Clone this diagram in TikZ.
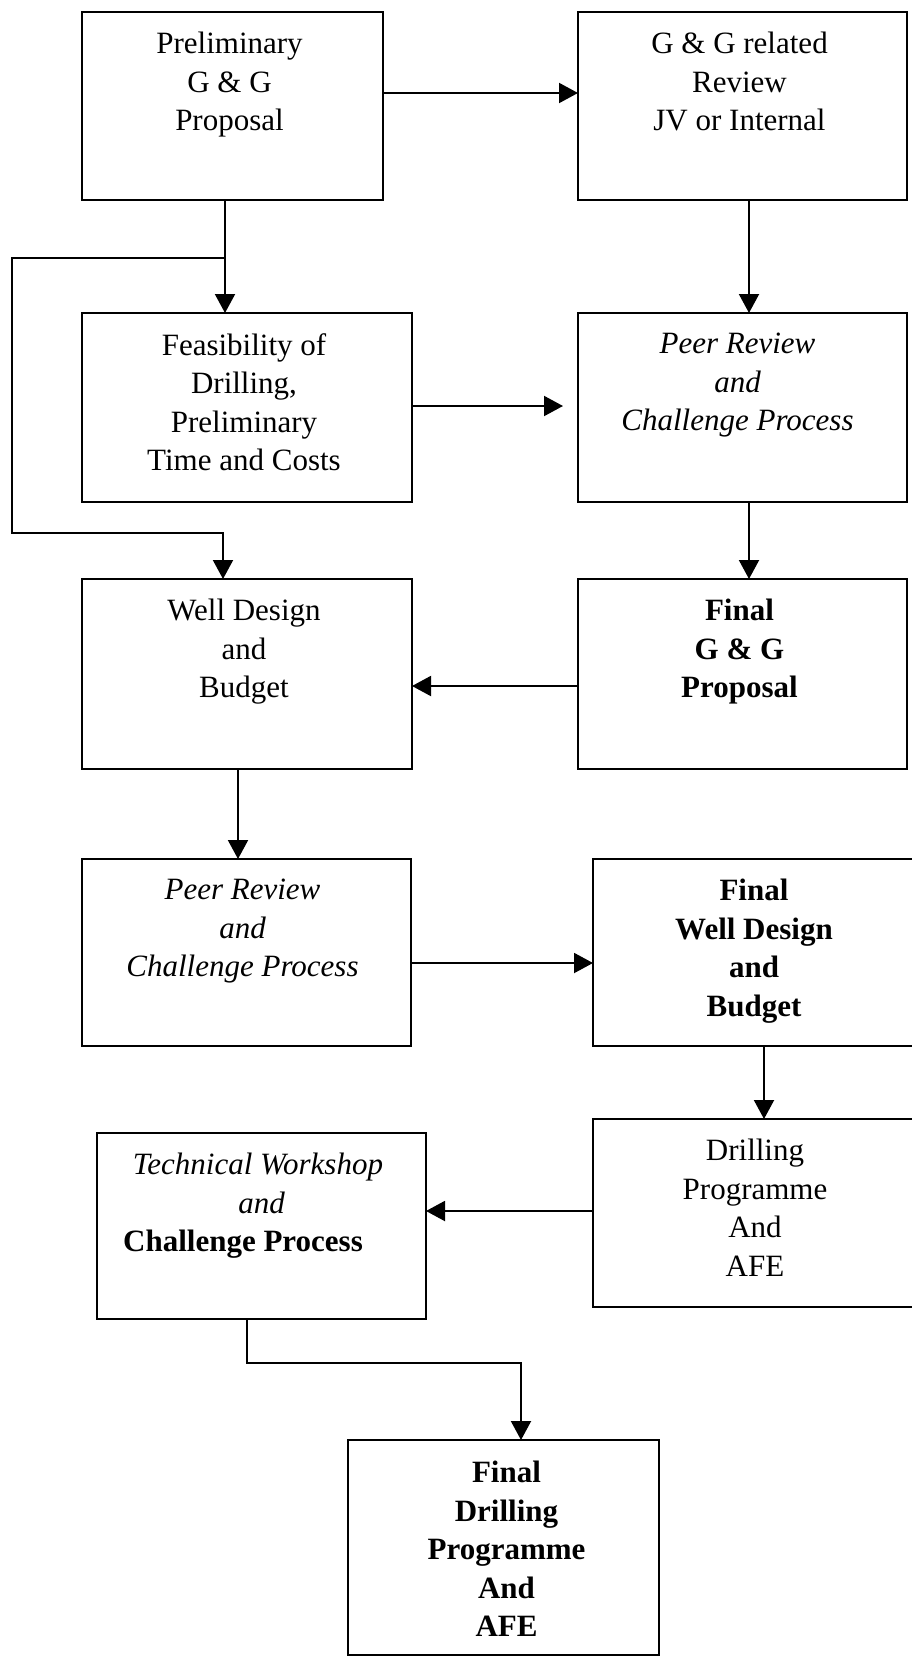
\documentclass[tikz,border=0pt]{standalone}
\usepackage{fontspec}
\setmainfont{Liberation Serif}
\usetikzlibrary{arrows.meta}
\begin{document}
\begin{tikzpicture}[x=1pt,y=-1pt,
  box/.style={draw, line width=2pt, inner sep=0pt, outer sep=0pt},
  txt/.style={anchor=north, inner sep=0pt, align=center, font=\fontsize{31}{38.5}\selectfont},
  arr/.style={line width=2pt, -{Triangle[length=19pt,width=20pt]}}]
\useasboundingbox (0,0) rectangle (912,1657);
% boxes
\node[box, minimum width=301pt, minimum height=188pt] (b1) at (232.5,106) {};
\node[box, minimum width=329pt, minimum height=188pt] (b2) at (742.5,106) {};
\node[box, minimum width=330pt, minimum height=189pt] (b3) at (247,407.5) {};
\node[box, minimum width=329pt, minimum height=189pt] (b4) at (742.5,407.5) {};
\node[box, minimum width=330pt, minimum height=190pt] (b5) at (247,674) {};
\node[box, minimum width=329pt, minimum height=190pt] (b6) at (742.5,674) {};
\node[box, minimum width=329pt, minimum height=187pt] (b7) at (246.5,952.5) {};
\node[box, minimum width=320pt, minimum height=187pt] (b8) at (753,952.5) {};
\node[box, minimum width=320pt, minimum height=188pt] (b9) at (753,1213) {};
\node[box, minimum width=329pt, minimum height=186pt] (b10) at (261.5,1226) {};
\node[box, minimum width=311pt, minimum height=215pt] (b11) at (503.5,1547.5) {};
% texts
\node[txt] (t1) at ([xshift=-3pt,yshift=-20pt]b1.north) {Preliminary\\G \& G\\Proposal};
\node[txt] (t2) at ([xshift=-3pt,yshift=-20pt]b2.north) {G \& G related\\Review\\JV or Internal};
\node[txt] (t3) at ([xshift=-3pt,yshift=-20pt]b3.north) {Feasibility of\\Drilling,\\Preliminary\\Time and Costs};
\node[txt] (t4) at ([xshift=-5pt,yshift=-20pt]b4.north) {\itshape Peer Review\\\itshape and\\\itshape Challenge Process};
\node[txt] (t5) at ([xshift=-3pt,yshift=-20pt]b5.north) {Well Design\\and\\Budget};
\node[txt] (t6) at ([xshift=-3pt,yshift=-20pt]b6.north) {\bfseries Final\\\bfseries G \& G\\\bfseries Proposal};
\node[txt] (t7) at ([xshift=-4pt,yshift=-20pt]b7.north) {\itshape Peer Review\\\itshape and\\\itshape Challenge Process};
\node[txt] (t8) at ([xshift=1pt,yshift=-20pt]b8.north) {\bfseries Final\\\bfseries Well Design\\\bfseries and\\\bfseries Budget};
\node[txt] (t9) at ([xshift=2pt,yshift=-20pt]b9.north) {Drilling\\Programme\\And\\AFE};
\node[txt] (t10) at ([yshift=-20pt]b10.north) {\itshape Technical Workshop\kern7pt\\\itshape and\\\textbf{Challenge Process}\kern37pt};
\node[txt] (t11) at ([xshift=3pt,yshift=-21pt]b11.north) {\bfseries Final\\\bfseries Drilling\\\bfseries Programme\\\bfseries And\\\bfseries AFE};
% connectors
\coordinate (j1) at (225,258);
\coordinate (c1) at (12,533);
\coordinate (c2) at (521,1363);
\draw[arr] ([yshift=13pt]b1.east) -- ([yshift=13pt]b2.west);
\draw[arr] ([xshift=-7.5pt]b1.south) -- ([xshift=-7.5pt]b1.south |- b3.north);
\draw[arr] (j1) -| (c1) -| ([xshift=-24pt]b5.north);
\draw[arr] ([xshift=6.5pt]b2.south) -- ([xshift=6.5pt]b2.south |- b4.north);
\draw[arr] ([yshift=1.5pt]b3.east) -- ([xshift=-15pt,yshift=1.5pt]b4.west);
\draw[arr] ([xshift=6.5pt]b4.south) -- ([xshift=6.5pt]b4.south |- b6.north);
\draw[arr] ([yshift=-12pt]b6.west) -- ([yshift=-12pt]b5.east);
\draw[arr] ([xshift=-9pt]b5.south) -- ([xshift=-9pt]b5.south |- b7.north);
\draw[arr] ([yshift=-10.5pt]b7.east) -- ([yshift=-10.5pt]b7.east -| b8.west);
\draw[arr] ([xshift=11pt]b8.south) -- ([xshift=11pt]b8.south |- b9.north);
\draw[arr] ([yshift=2pt]b9.west) -- ([yshift=2pt]b9.west -| b10.east);
\draw[arr] ([xshift=-14.5pt]b10.south) |- (c2) -- (c2 |- b11.north);
\end{tikzpicture}
\end{document}
